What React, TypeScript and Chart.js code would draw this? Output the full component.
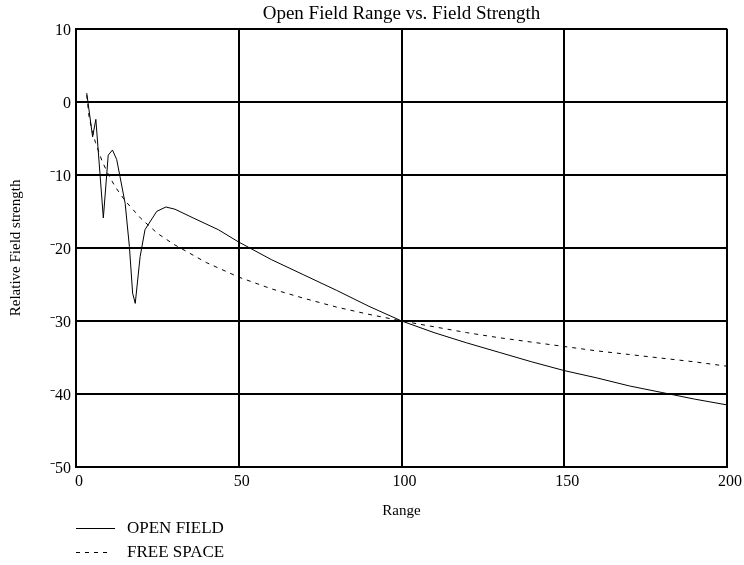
import React, { useEffect, useRef } from 'react';
import { Chart, registerables } from 'chart.js';

Chart.register(...registerables);

const chartTitle = 'Open Field Range vs. Field Strength';
const xAxisTitle = 'Range';
const yAxisTitle = 'Relative Field strength';
const seriesNames = ['OPEN FIELD', 'FREE SPACE'];

const xMin = 0;
const xMax = 200;
const xStep = 50;
const yMin = -50;
const yMax = 10;
const yStep = 10;

const openRange = [3.3, 5.1, 6.1, 8.4, 9.9, 11.2, 12.5, 13.5, 15.1, 16.4, 17.4, 18.2, 19.7, 21.2, 24.8, 27.6, 30.4, 36, 43.7, 50, 60, 70, 80, 90, 100, 110, 120, 130, 140, 150, 160, 170, 180, 190, 200];
const openField = [1.2, -4.8, -2.4, -15.9, -7.3, -6.6, -7.9, -10.2, -13.9, -19.8, -26.2, -27.6, -21.2, -17.5, -15, -14.4, -14.7, -15.9, -17.5, -19.2, -21.6, -23.7, -25.8, -28, -30, -31.6, -33, -34.3, -35.6, -36.8, -37.8, -38.9, -39.8, -40.7, -41.5];

const freeRange = [3.3, 4, 5, 6, 8, 10, 12, 15, 20, 25, 30, 40, 50, 60, 70, 80, 90, 100, 110, 120, 130, 140, 150, 160, 170, 180, 190, 200];
const freeSpace = [0.9, -2, -4, -5.6, -8.1, -10, -11.6, -13.5, -16, -18, -19.5, -22, -24, -25.6, -26.9, -28.1, -29.1, -30, -30.8, -31.6, -32.3, -32.9, -33.5, -34.1, -34.6, -35.1, -35.6, -36.2];

const FONT = '"Liberation Serif", "Times New Roman", serif';

const bottomLegend = {
  id: 'bottomLegend',
  afterDraw(chart: any) {
    const ctx = chart.ctx;
    const left = chart.chartArea.left;
    const rows = [528, 552];
    ctx.save();
    chart.data.datasets.forEach((ds: any, i: number) => {
      const y = rows[i];
      ctx.beginPath();
      ctx.strokeStyle = ds.borderColor;
      ctx.lineWidth = 1;
      ctx.setLineDash(ds.borderDash || []);
      ctx.moveTo(left, y + 0.5);
      ctx.lineTo(left + (ds.borderDash ? 32 : 39), y + 0.5);
      ctx.stroke();
      ctx.setLineDash([]);
      ctx.fillStyle = '#000';
      ctx.font = `17px ${FONT}`;
      ctx.textBaseline = 'middle';
      ctx.textAlign = 'left';
      ctx.fillText(ds.label, left + 51, y + 1);
    });
    ctx.restore();
  },
};

export default function App() {
  const ref = useRef<HTMLCanvasElement | null>(null);

  useEffect(() => {
    document.body.style.margin = '0';
    const canvas = ref.current;
    if (!canvas) return;
    Chart.defaults.font.family = FONT;
    Chart.defaults.color = '#000';

    const chart = new Chart(canvas, {
      type: 'line',
      data: {
        datasets: [
          {
            label: seriesNames[0],
            data: openRange.map((x, i) => ({ x, y: openField[i] })),
            borderColor: '#000',
            borderWidth: 1,
            pointRadius: 0,
            tension: 0,
            fill: false,
          },
          {
            label: seriesNames[1],
            data: freeRange.map((x, i) => ({ x, y: freeSpace[i] })),
            borderColor: '#000',
            borderWidth: 1,
            borderDash: [4, 5],
            pointRadius: 0,
            tension: 0,
            fill: false,
          },
        ],
      },
      options: {
        animation: false,
        responsive: false,
        maintainAspectRatio: false,
        layout: { padding: { left: 0, right: 17, top: 0, bottom: 45 } },
        plugins: {
          legend: { display: false },
          tooltip: { enabled: false },
          title: {
            display: true,
            text: chartTitle,
            fullSize: false,
            color: '#000',
            font: { size: 19, weight: 'normal', family: FONT },
            padding: { top: 3, bottom: 3 },
          },
        },
        scales: {
          x: {
            type: 'linear',
            min: xMin,
            max: xMax,
            afterFit: (s: any) => { s.height = 53; },
            ticks: {
              stepSize: xStep,
              color: '#000',
              font: { size: 16, family: FONT },
              padding: 5,
              labelOffset: 3,
              maxRotation: 0,
            },
            grid: { color: '#000', lineWidth: 2, drawTicks: false },
            border: { display: true, color: '#000', width: 2 },
            title: {
              display: true,
              text: xAxisTitle,
              color: '#000',
              font: { size: 15, family: FONT },
              padding: { top: 0, bottom: 0 },
            },
          },
          y: {
            type: 'linear',
            min: yMin,
            max: yMax,
            afterFit: (s: any) => { s.width = 76; },
            ticks: {
              stepSize: yStep,
              color: '#000',
              font: { size: 16, family: FONT },
              padding: 5,
              labelOffset: 2,
              callback: (v: any) => (Number(v) < 0 ? '\u207B' + Math.abs(Number(v)) : String(v)),
            },
            grid: { color: '#000', lineWidth: 2, drawTicks: false },
            border: { display: true, color: '#000', width: 2 },
            title: {
              display: true,
              text: yAxisTitle,
              color: '#000',
              font: { size: 15, family: FONT },
              padding: 7,
            },
          },
        },
      },
      plugins: [bottomLegend],
    });

    return () => chart.destroy();
  }, []);

  return (
    <div style={{ width: 744, height: 565, background: '#fff' }}>
      <canvas ref={ref} width={744} height={565} style={{ display: 'block', width: 744, height: 565 }} />
    </div>
  );
}
